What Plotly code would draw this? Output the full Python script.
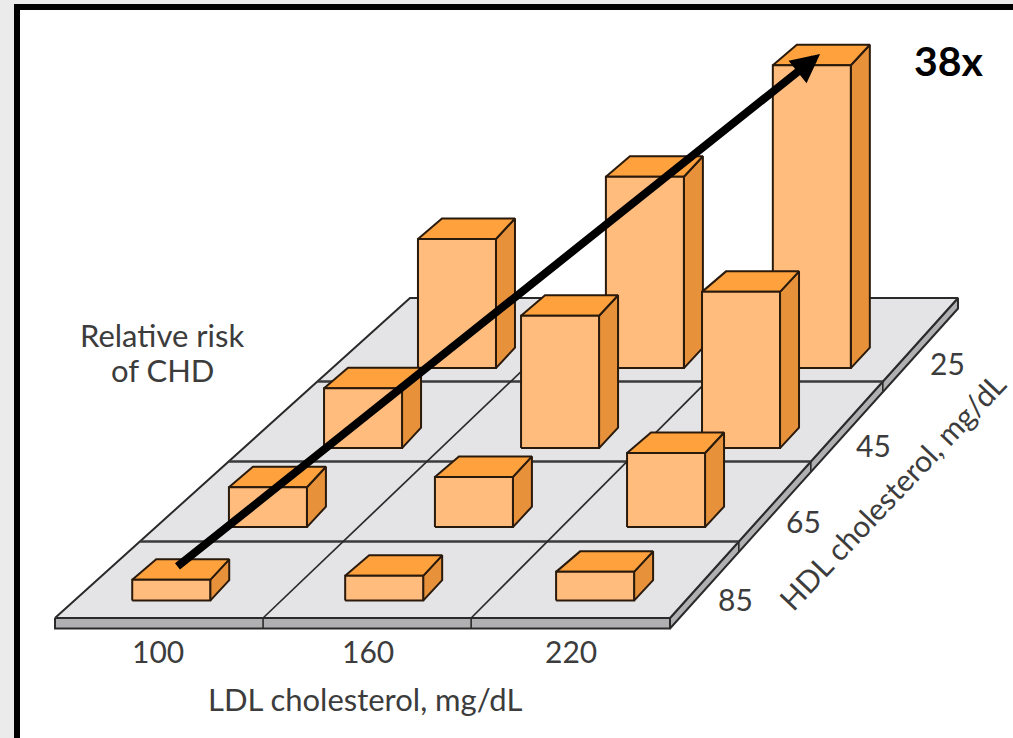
import plotly.graph_objects as go

# Relative risk of coronary heart disease by LDL and HDL level
ldl_levels = ["100", "160", "220"]
hdl_levels = ["85", "65", "45", "25"]
risk_hdl_85 = [2.6, 3.1, 3.6]
risk_hdl_65 = [5.0, 6.3, 9.3]
risk_hdl_45 = [7.5, 16.6, 19.6]
risk_hdl_25 = [16.2, 24.0, 38.0]
risk_rows = [risk_hdl_85, risk_hdl_65, risk_hdl_45, risk_hdl_25]
peak_label = "38x"

# Floor placement of each bar: across (columns) and into the page (rows)
bar_across = [
    [0.284, 1.329, 2.364],
    [0.368, 1.405, 2.372],
    [0.417, 1.437, 2.374],
    [0.457, 1.459, 2.349],
]
bar_depth = [0.0545, 0.284, 0.531, 0.781]
row_edges = [0, 0.239, 0.489, 0.739, 1]
col_edges_front = [1.015, 2.03]
col_edges_back = [1.03, 2.08]

# Scene geometry on a 1013x738 canvas
FLOOR_Y, FLOOR_RISE = 618, 320
LEFT_X, LEFT_RUN = 55, 355
RIGHT_X, RIGHT_RUN = 670, 288
SLAB = 10.5
BAR_W, BAR_DX_L, BAR_DX_R, BAR_DY = 78, 24, 19, 20.5
PX_PER_RISK = 7.97

FLOOR = "#e4e4e6"
SLAB_FACE = "#b0b0b2"
INK = "#2a2a2a"
FRONT = "#ffbc7c"
TOP = "#ffa23e"
SIDE = "#e7913b"
EDGE = "#2a1a0c"
TEXT = "#3c3c3c"


def project(u, d):
    """Floor coordinates to canvas position."""
    xl = LEFT_X + LEFT_RUN * d
    xr = RIGHT_X + RIGHT_RUN * d
    return xl + (xr - xl) * u / 3, FLOOR_Y - FLOOR_RISE * d


fig = go.Figure()


def poly(pts, fill, line=INK, width=2.0):
    xs = [p[0] for p in pts] + [pts[0][0]]
    ys = [p[1] for p in pts] + [pts[0][1]]
    fig.add_trace(go.Scatter(x=xs, y=ys, mode="lines", fill="toself", fillcolor=fill,
                             line=dict(color=line, width=width), hoverinfo="skip"))


def seg(a, b, width=2.0, color=INK):
    fig.add_trace(go.Scatter(x=[a[0], b[0]], y=[a[1], b[1]], mode="lines",
                             line=dict(color=color, width=width), hoverinfo="skip"))


# Floor slab with its front and right edges
fl, fr = project(0, 0), project(3, 0)
br, bl = project(3, 1), project(0, 1)
poly([fl, fr, (fr[0], fr[1] + SLAB), (fl[0], fl[1] + SLAB)], SLAB_FACE)
poly([fr, br, (br[0], br[1] + SLAB), (fr[0], fr[1] + SLAB)], SLAB_FACE)
poly([fl, fr, br, bl], FLOOR)
for d in row_edges[1:-1]:
    a, b = project(0, d), project(3, d)
    seg(a, b, 2.4, "#3a3a3a")
    seg(b, (b[0], b[1] + SLAB), 1.6)
for uf, ub in zip(col_edges_front, col_edges_back):
    a, b = project(uf, 0), project(ub, 1)
    seg(a, b, 1.7)
    seg(a, (a[0], a[1] + SLAB), 1.6)

# Bars, painted from the back row forward
tops = {}
for r in reversed(range(len(hdl_levels))):
    for c in range(len(ldl_levels)):
        x0, y0 = project(bar_across[r][c], bar_depth[r])
        h = risk_rows[r][c] * PX_PER_RISK
        x1, yt = x0 + BAR_W, y0 - h
        poly([(x1, y0), (x1 + BAR_DX_R, y0 - BAR_DY), (x1 + BAR_DX_R, yt - BAR_DY), (x1, yt)],
             SIDE, EDGE)
        poly([(x0, yt), (x1, yt), (x1 + BAR_DX_R, yt - BAR_DY), (x0 + BAR_DX_L, yt - BAR_DY)],
             TOP, EDGE)
        poly([(x0, y0), (x1, y0), (x1, yt), (x0, yt)], FRONT, EDGE)
        tops[(r, c)] = (x0 + (BAR_W + BAR_DX_L * 0.5 + BAR_DX_R * 0.5) / 2, yt - BAR_DY / 2)

# Arrow rising from the lowest-risk bar to the highest-risk bar
tail = tops[(0, 0)]
tip = tops[(3, 2)]
annotations = [dict(x=tip[0] - 2.5, y=tip[1] - 1, ax=tail[0] - 6, ay=tail[1] - 2,
                    xref="x", yref="y", axref="x", ayref="y", text="", showarrow=True,
                    arrowhead=2, arrowsize=0.72, arrowwidth=8, arrowcolor="#000000")]


def label(text, x, y, size=31, angle=0, color=TEXT, family="Lato", bold=False):
    annotations.append(dict(x=x, y=y, xref="x", yref="y", text=f"<b>{text}</b>" if bold else text,
                            showarrow=False, textangle=angle,
                            font=dict(family=family, size=size, color=color)))


for name, x in zip(ldl_levels, [158, 368, 571]):
    label(name, x, 651, size=30)
for name, x, y in zip(hdl_levels, [735, 803, 873, 947], [599, 521, 445, 363]):
    label(name, x, y, size=30)
label("LDL cholesterol, mg/dL", 365, 699)
label("HDL cholesterol, mg/dL", 892, 491, size=30, angle=-46.5)
label("Relative risk", 162, 335)
label("of CHD", 162, 370)
label(peak_label, 949, 60, size=41, color="#000000", bold=True)

# Page frame: pale margin and heavy black rule
frame = [
    dict(type="rect", x0=0, x1=1013, y0=0, y1=4, fillcolor="#ebebeb", line_width=0, layer="below"),
    dict(type="rect", x0=0, x1=14, y0=0, y1=738, fillcolor="#ebebeb", line_width=0, layer="below"),
    dict(type="rect", x0=14, x1=20, y0=4, y1=738, fillcolor="#000000", line_width=0, layer="below"),
    dict(type="rect", x0=14, x1=1013, y0=4, y1=10, fillcolor="#000000", line_width=0, layer="below"),
]

fig.update_layout(
    width=1013, height=738, margin=dict(l=0, r=0, t=0, b=0),
    paper_bgcolor="#ffffff", plot_bgcolor="#ffffff", showlegend=False,
    xaxis=dict(range=[0, 1013], visible=False, fixedrange=True),
    yaxis=dict(range=[738, 0], visible=False, fixedrange=True),
    annotations=annotations, shapes=frame,
)
fig.write_html("out.html", config={"displayModeBar": False})
